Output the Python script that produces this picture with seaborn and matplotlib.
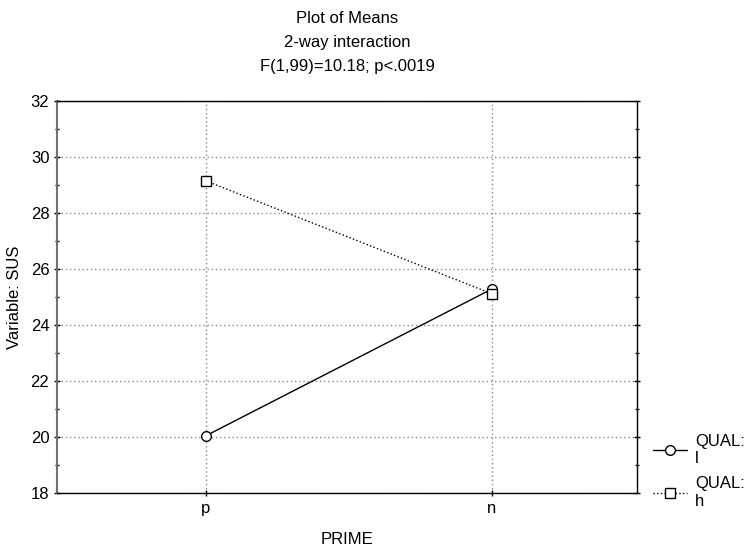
import pandas as pd
import matplotlib
matplotlib.use("Agg")
import matplotlib.pyplot as plt
import seaborn as sns
from matplotlib.lines import Line2D
from matplotlib.ticker import MultipleLocator

# data
prime = ["p", "n", "p", "n"]
qual = ["l", "l", "h", "h"]
sus = [20.04, 25.28, 29.15, 25.12]

df = pd.DataFrame({"PRIME": prime, "QUAL": qual, "SUS": sus})

sns.set_theme(style="white")
plt.rcParams["font.family"] = ["Liberation Sans", "DejaVu Sans"]
plt.rcParams["font.size"] = 12
for k in ["text.color", "axes.labelcolor", "xtick.color", "ytick.color"]:
    plt.rcParams[k] = "black"

fig = plt.figure(figsize=(7.45, 5.49), dpi=100)
ax = fig.add_axes([0.0765, 0.102, 0.779, 0.714])

sns.pointplot(data=df, x="PRIME", y="SUS", hue="QUAL", order=["p", "n"],
              hue_order=["l", "h"], palette=["black", "black"],
              markers=["o", "s"], linestyles=["-", ":"], linewidth=1,
              markersize=7, markeredgewidth=1,
              errorbar=None, ax=ax, legend=False)

# white-filled markers
for ln in ax.lines:
    ln.set_markerfacecolor("white")
    ln.set_zorder(3)

ax.set_ylim(18, 32)
ax.set_xlim(-0.52, 1.51)
ax.yaxis.set_major_locator(MultipleLocator(2))
ax.yaxis.set_minor_locator(MultipleLocator(1))
ax.grid(True, which="major", linestyle=(0, (1, 2)), color="#8a8a8a", linewidth=1)
ax.tick_params(which="both", direction="inout", length=4, width=1, color="black",
               left=True, right=True, bottom=True, top=False, labelsize=12)
ax.tick_params(which="minor", length=3)
for s in ax.spines.values():
    s.set_color("black")
    s.set_linewidth(1)
ax.spines["left"].set_color("#707070")
ax.spines["left"].set_linewidth(1.5)

ax.set_xlabel("PRIME", fontsize=12, labelpad=12)
ax.set_ylabel("Variable: SUS", fontsize=12, labelpad=6)

fig.text(0.466, 0.967, "Plot of Means", ha="center", va="center", fontsize=12)
fig.text(0.466, 0.922, "2-way interaction", ha="center", va="center", fontsize=12)
fig.text(0.466, 0.878, "F(1,99)=10.18; p<.0019", ha="center", va="center", fontsize=12)

handles = [
    Line2D([], [], color="black", linestyle="-", linewidth=1, marker="o",
           markerfacecolor="white", markersize=7),
    Line2D([], [], color="black", linestyle=":", linewidth=1, marker="s",
           markerfacecolor="white", markersize=7),
]
fig.legend(handles, ["QUAL:\nl", "QUAL:\nh"], loc="upper left",
           bbox_to_anchor=(0.868, 0.222), frameon=False, fontsize=12,
           handlelength=2, handletextpad=0.5, labelspacing=0.6,
           borderaxespad=0)

fig.savefig("out.png", dpi=100)
